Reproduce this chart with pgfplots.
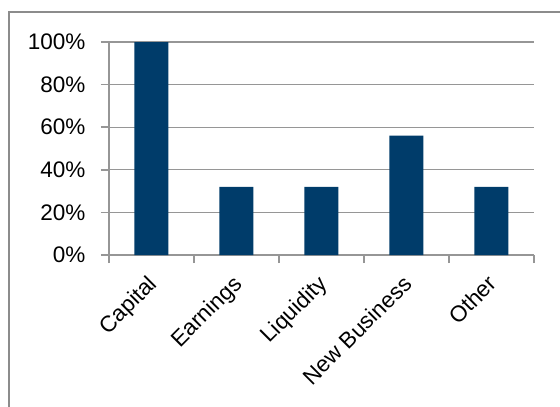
\documentclass[border=0pt]{standalone}
\usepackage{fontspec}
\setmainfont{Liberation Sans}
\usepackage{pgfplots}
\pgfplotsset{compat=1.18}
\definecolor{barblue}{RGB}{0,60,106}
\definecolor{gridgray}{RGB}{150,150,150}
\definecolor{framegray}{RGB}{140,140,140}
\begin{document}
\begin{tikzpicture}[x=1pt,y=1pt]
\useasboundingbox (-109,-152) rectangle (451,255);
\draw[framegray, line width=1.2pt] (-100,-170) -- (-100,243) -- (470,243);
\begin{axis}[
  at={(0pt,0pt)}, anchor=south west,
  width=425pt, height=213pt, scale only axis,
  xmin=0.5, xmax=5.5, ymin=0, ymax=100,
  ytick={0,20,...,100},
  yticklabel={\pgfmathprintnumber[assume math mode=true]{\tick}\%},
  ymajorgrids, grid style={gridgray, line width=1.3pt},
  axis lines*=left, axis line style={-, gridgray, line width=1.5pt},
  tick align=outside, major tick length=8pt,
  tick style={gridgray, line width=1.5pt},
  xtick={0.5,1.5,...,5.5}, xticklabels={},
  extra x ticks={1,2,3,4,5},
  extra x tick labels={Capital,Earnings,Liquidity,New Business,Other},
  extra x tick style={major tick length=0pt, xticklabel style={xshift=-5pt, yshift=-14pt, rotate=45, anchor=north east}},
  ticklabel style={font=\fontsize{22.5}{27}\selectfont},
  yticklabel style={anchor=east, xshift=-12pt},
  clip=false,
]
\addplot[ybar, bar width=34pt, fill=barblue, draw=none] coordinates {(1,100) (2,32) (3,32) (4,56) (5,32)};
\end{axis}
\end{tikzpicture}
\end{document}
